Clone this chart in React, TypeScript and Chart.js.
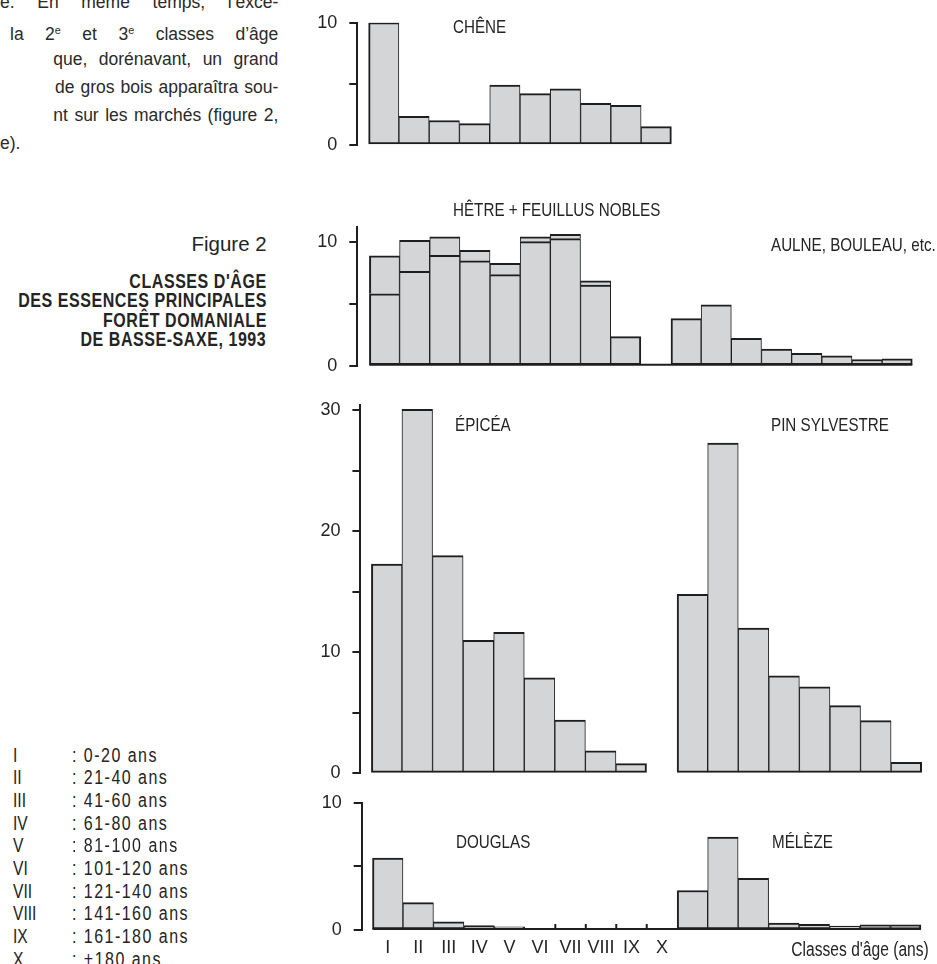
import React, { useEffect, useRef } from "react";
import { Chart, registerables } from "chart.js";

Chart.register(...registerables);

// ---------------- data ----------------
const CLASSES = ["I", "II", "III", "IV", "V", "VI", "VII", "VIII", "IX", "X"];
const CLASS_RANGES = [
  "0-20 ans", "21-40 ans", "41-60 ans", "61-80 ans", "81-100 ans",
  "101-120 ans", "121-140 ans", "141-160 ans", "161-180 ans", "+180 ans",
];
const CHENE = [10.0, 2.35, 2.0, 1.75, 4.9, 4.2, 4.6, 3.4, 3.25, 1.5];
const HETRE = [5.8, 7.6, 8.9, 8.45, 7.35, 10.0, 10.25, 6.5, 2.35, 0];
const FEUILLUS_NOBLES = [3.05, 2.5, 1.5, 0.85, 0.9, 0.4, 0.35, 0.35, 0, 0];
const AULNE_BOULEAU = [3.8, 4.9, 2.2, 1.35, 1.0, 0.8, 0.5, 0.55];
const EPICEA = [17.3, 30.1, 18.0, 11.0, 11.65, 7.9, 4.4, 1.85, 0.8, 0];
const PIN_SYLVESTRE = [14.8, 27.3, 12.0, 8.05, 7.15, 5.6, 4.35, 0.9];
const DOUGLAS = [5.65, 2.15, 0.65, 0.35, 0.25, 0, 0, 0, 0, 0];
const MELEZE = [3.1, 7.3, 4.05, 0.55, 0.45, 0.3, 0.4, 0.4];
const Y_TICK_STEP = 5;
const Y_LABEL_STEP = 10;

// ---------------- style ----------------
const INK = "#1e1e1e";
const TEXT = "#242424";
const FILL = "#d4d5d7";
const SANS = '"Liberation Sans", Arial, Helvetica, sans-serif';
const CANVAS_LEFT = 300;
const SLOTS = 18;
const PAD = 25;
const X_AXIS_H = 34;

type Series = { values: number[]; start: number; upper?: boolean };
type Panel = {
  axisX: number; barLeft: number; slot: number; yTop: number; y0: number; max: number;
  series: Series[]; baseline: boolean; showX: boolean;
};

const PANELS: Panel[] = [
  {
    axisX: 357.3, barLeft: 368.6, slot: 30.28, yTop: 22.7, y0: 145, max: 10,
    series: [{ values: CHENE, start: 0 }], baseline: false, showX: false,
  },
  {
    axisX: 357.3, barLeft: 369.4, slot: 30.16, yTop: 227.3, y0: 365.7, max: 11.16,
    series: [
      { values: HETRE, start: 0 },
      { values: FEUILLUS_NOBLES, start: 0, upper: true },
      { values: AULNE_BOULEAU, start: 10 },
    ],
    baseline: true, showX: false,
  },
  {
    axisX: 360.4, barLeft: 371.4, slot: 30.57, yTop: 405, y0: 773.3, max: 30.45,
    series: [{ values: EPICEA, start: 0 }, { values: PIN_SYLVESTRE, start: 10 }],
    baseline: false, showX: false,
  },
  {
    axisX: 361.7, barLeft: 372.5, slot: 30.47, yTop: 802.7, y0: 930, max: 10,
    series: [{ values: DOUGLAS, start: 0 }, { values: MELEZE, start: 10 }],
    baseline: true, showX: true,
  },
];

function occupied(panel: Panel, slot: number) {
  return panel.series.some((s) => !s.upper && slot >= s.start && slot < s.start + s.values.length && s.values[slot - s.start] > 0);
}

function geometry(p: Panel) {
  const axisW = p.axisX - CANVAS_LEFT;
  const xMin = -0.5 - (p.barLeft - p.axisX) / p.slot;
  const xMax = SLOTS - 0.5 + 0.2;
  const plotW = (xMax - xMin) * p.slot;
  const width = Math.ceil(axisW + plotW);
  const padRight = width - axisW - plotW;
  const top = Math.floor(p.yTop - PAD);
  const padTop = p.yTop - top;
  const plotH = p.y0 - p.yTop;
  const bottomSpace = p.showX ? X_AXIS_H : PAD;
  const height = Math.ceil(padTop + plotH + bottomSpace);
  const padBottom = height - padTop - plotH - (p.showX ? X_AXIS_H : 0);
  return { axisW, xMin, xMax, width, height, top, padTop, padRight, padBottom };
}

function makeBaselinePlugin(panel: Panel) {
  return {
    id: "baseline",
    afterDatasetsDraw(chart: any) {
      if (!panel.baseline) return;
      const xs = chart.scales.x;
      const ys = chart.scales.y;
      const ctx = chart.ctx;
      const y0 = ys.getPixelForValue(0);
      ctx.save();
      ctx.strokeStyle = INK;
      ctx.lineWidth = 2;
      ctx.beginPath();
      ctx.moveTo(xs.getPixelForValue(-0.5), y0 - 1);
      ctx.lineTo(xs.getPixelForValue(SLOTS - 0.5), y0 - 1);
      for (const s of panel.series) {
        if (s.upper) continue;
        for (let i = 0; i < s.values.length - 1; i++) {
          if (s.values[i] === 0 && s.values[i + 1] === 0) {
            const x = xs.getPixelForValue(s.start + i + 0.5);
            ctx.moveTo(x, y0);
            ctx.lineTo(x, y0 - 6);
          }
        }
      }
      ctx.stroke();
      ctx.restore();
    },
  };
}

function PanelChart({ panel }: { panel: Panel }) {
  const ref = useRef<HTMLCanvasElement | null>(null);
  const g = geometry(panel);
  useEffect(() => {
    if (!ref.current) return;
    const datasets = panel.series.map((s) => ({
      data: s.values.map((v, i) => ({ x: s.start + i, y: v })),
      backgroundColor: FILL,
      borderColor: INK,
      borderWidth: (c: any) => {
        const slot = s.start + (c.dataIndex ?? 0);
        const left = occupied(panel, slot - 1) ? 1 : 2;
        const right = occupied(panel, slot + 1) ? 1 : 2;
        return { top: 2, right, bottom: s.upper ? 0 : 2, left };
      },
      borderSkipped: false,
      grouped: false,
      barPercentage: 1,
      categoryPercentage: 1,
    }));
    const xScale: any = {
      type: "linear",
      min: g.xMin,
      max: g.xMax,
      bounds: "data",
      offset: false,
      display: panel.showX,
      grid: { display: false, drawTicks: false, offset: false },
      border: { display: false },
      ticks: {
        autoSkip: false,
        maxRotation: 0,
        padding: 7.5,
        color: TEXT,
        font: { family: SANS, size: 18 },
        callback: (v: number) => (Number.isInteger(v) && v >= 0 && v < CLASSES.length ? CLASSES[v] : ""),
      },
      afterBuildTicks: (scale: any) => {
        scale.ticks = Array.from({ length: SLOTS }, (_, i) => ({ value: i }));
      },
    };
    if (panel.showX) {
      xScale.afterFit = (scale: any) => {
        scale.height = X_AXIS_H;
      };
    }
    const chart = new Chart(ref.current, {
      type: "bar",
      data: { datasets } as any,
      options: {
        animation: false,
        responsive: false,
        events: [],
        layout: { padding: { top: g.padTop, bottom: g.padBottom, left: 0, right: g.padRight } },
        plugins: { legend: { display: false }, tooltip: { enabled: false }, title: { display: false } },
        scales: {
          x: xScale,
          y: {
            type: "linear",
            min: 0,
            max: panel.max,
            bounds: "data",
            stacked: true,
            afterFit: (scale: any) => {
              scale.width = g.axisW;
            },
            ticks: {
              stepSize: Y_TICK_STEP,
              includeBounds: false,
              padding: 12,
              color: TEXT,
              font: { family: SANS, size: 18 },
              callback: (v: any) => (Number(v) % Y_LABEL_STEP === 0 ? String(v) : ""),
            },
            grid: {
              drawOnChartArea: false,
              drawTicks: true,
              tickLength: 8,
              tickWidth: 2,
              tickColor: INK,
              color: INK,
              lineWidth: 2,
            },
            border: { display: true, color: INK, width: 2 },
          },
        },
      } as any,
      plugins: [makeBaselinePlugin(panel)],
    });
    return () => chart.destroy();
  }, []);
  return (
    <canvas
      ref={ref}
      width={g.width}
      height={g.height}
      style={{ position: "absolute", left: CANVAS_LEFT, top: g.top, width: g.width, height: g.height }}
    />
  );
}

// ---------------- text helpers ----------------
type TxtProps = {
  x: number; base: number; size: number; weight?: number | string; squeeze?: number;
  align?: "left" | "right"; spacing?: number; color?: string; children: React.ReactNode;
};
function Txt({ x, base, size, weight = 400, align = "left", spacing = 0, squeeze = 1, color = TEXT, children }: TxtProps) {
  const style: React.CSSProperties = {
    position: "absolute",
    top: base - 0.3465 * size,
    lineHeight: 0,
    whiteSpace: "nowrap",
    fontFamily: SANS,
    fontSize: size,
    fontWeight: weight as any,
    letterSpacing: spacing,
    color,
    transform: squeeze !== 1 ? `scaleX(${squeeze})` : undefined,
    transformOrigin: align === "left" ? "left center" : "right center",
  };
  if (align === "left") style.left = x;
  else style.right = 937 - x;
  return <div style={style}>{children}</div>;
}

function JLine({ left, right, base, size, last, children }: { left: number; right: number; base: number; size: number; last?: boolean; children: React.ReactNode }) {
  return (
    <div
      style={{
        position: "absolute",
        left,
        width: right - left,
        top: base - 0.3465 * size,
        lineHeight: 0,
        fontFamily: SANS,
        fontSize: size,
        color: "#2a2a2a",
        textAlign: last ? "left" : "justify",
        textAlignLast: last ? "left" : "justify",
      } as React.CSSProperties}
    >
      {children}
    </div>
  );
}

const Sup = ({ children }: { children: React.ReactNode }) => (
  <sup style={{ fontSize: "0.62em", lineHeight: 0, verticalAlign: "0.55em" }}>{children}</sup>
);

const SPECIES_LABELS = [
  { text: "CHÊNE", x: 453, base: 33.3 },
  { text: "HÊTRE + FEUILLUS NOBLES", x: 453, base: 216.7 },
  { text: "AULNE, BOULEAU, etc.", x: 771.4, base: 251.7 },
  { text: "ÉPICÉA", x: 455, base: 431.7 },
  { text: "PIN SYLVESTRE", x: 771.4, base: 431.7 },
  { text: "DOUGLAS", x: 456.3, base: 848.3 },
  { text: "MÉLÈZE", x: 772.2, base: 848.3 },
];

const TITLE_LINES = ["CLASSES D'ÂGE", "DES ESSENCES PRINCIPALES", "FORÊT DOMANIALE", "DE BASSE-SAXE, 1993"];

export default function App() {
  const PARA = 17.5;
  const paraRight = 278.3;
  return (
    <div
      style={{
        position: "absolute",
        left: 0,
        top: 0,
        width: 937,
        height: 964,
        overflow: "hidden",
        background: "#ffffff",
      }}
    >
      {PANELS.map((p, i) => (
        <PanelChart key={i} panel={p} />
      ))}

      {SPECIES_LABELS.map((l) => (
        <Txt key={l.text} x={l.x} base={l.base} size={19} squeeze={0.8}>
          {l.text}
        </Txt>
      ))}
      <Txt x={929} base={956} size={19.5} squeeze={0.8} align="right">
        Classes d'âge (ans)
      </Txt>

      {/* paragraph fragment */}
      <JLine left={0} right={paraRight} base={8} size={PARA}>e. En même temps, l’exce-</JLine>
      <JLine left={10} right={paraRight} base={36.3} size={PARA}>
        la 2<Sup>e</Sup> et 3<Sup>e</Sup> classes d’âge
      </JLine>
      <JLine left={53.3} right={paraRight} base={64.6} size={PARA}>que, dorénavant, un grand</JLine>
      <JLine left={55} right={paraRight} base={92.9} size={PARA}>de gros bois apparaîtra sou-</JLine>
      <JLine left={53.3} right={paraRight} base={121.2} size={PARA}>nt sur les marchés (figure 2,</JLine>
      <JLine left={0} right={paraRight} base={149.5} size={PARA} last>e).</JLine>

      {/* title block */}
      <Txt x={266.7} base={251} size={20.5} align="right">Figure 2</Txt>
      {TITLE_LINES.map((t, i) => (
        <Txt key={t} x={266.7} base={288 + i * 19.4} size={20} weight={700} align="right" spacing={0.7} squeeze={0.8}>
          {t}
        </Txt>
      ))}

      {/* age class legend */}
      {CLASSES.map((c, i) => (
        <React.Fragment key={c}>
          <Txt x={13.3} base={761.3 + i * 22.7} size={19.5} squeeze={0.8}>{c}</Txt>
          <Txt x={71.7} base={761.3 + i * 22.7} size={19.5} squeeze={0.82} spacing={1.8}>
            : {CLASS_RANGES[i]}
          </Txt>
        </React.Fragment>
      ))}
    </div>
  );
}
